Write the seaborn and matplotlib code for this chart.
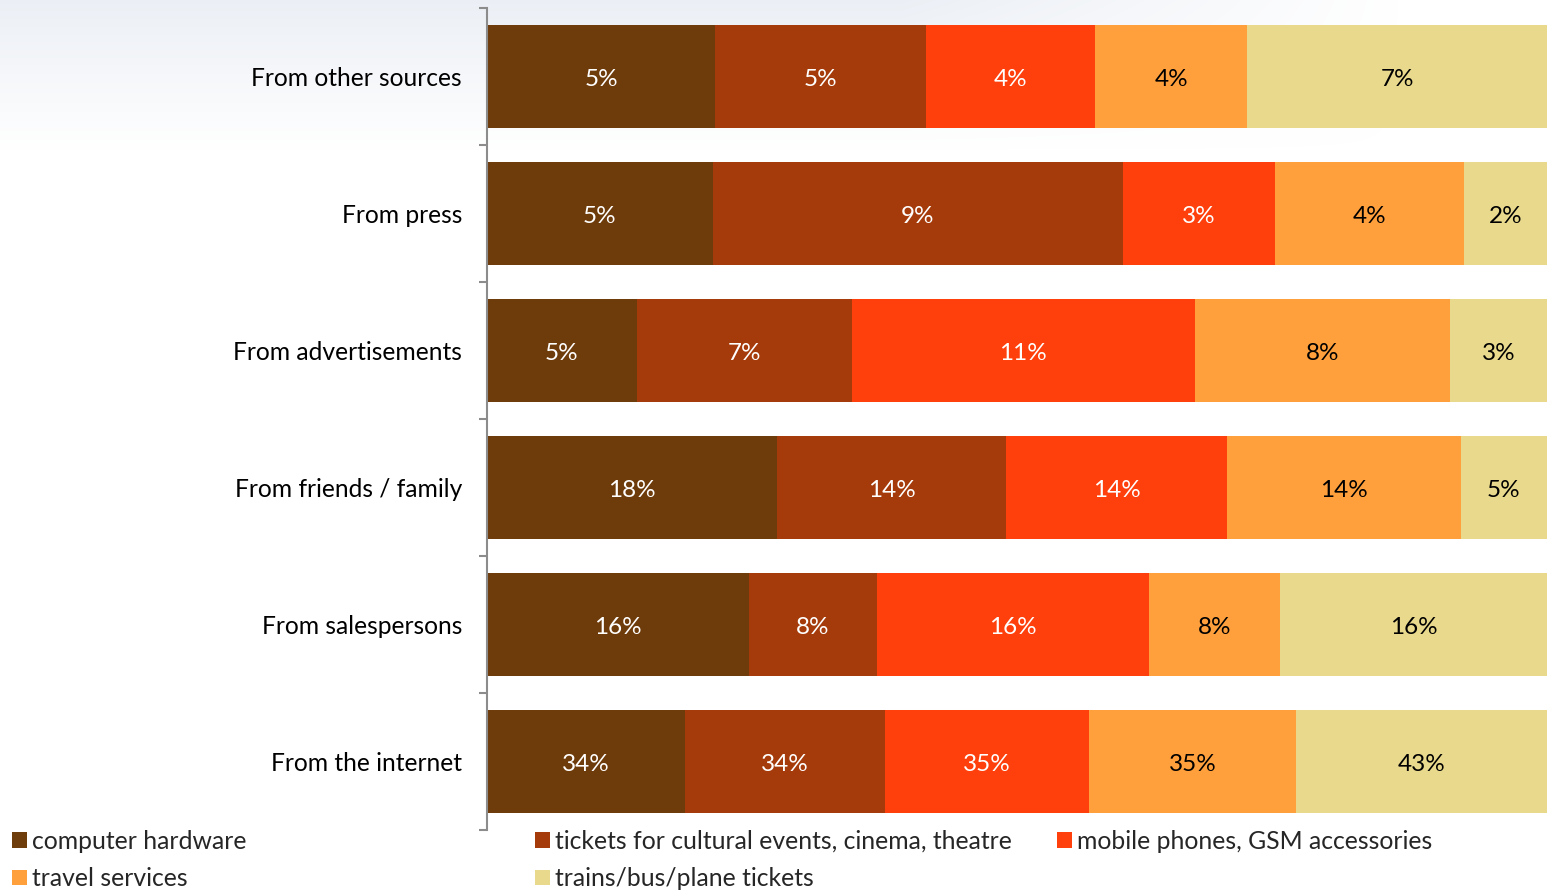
import numpy as np
import pandas as pd
import matplotlib
matplotlib.use("Agg")
import matplotlib.pyplot as plt
from matplotlib.patches import Patch
import seaborn as sns

# Information sources (rows, top to bottom)
sources = [
    "From other sources",
    "From press",
    "From advertisements",
    "From friends / family",
    "From salespersons",
    "From the internet",
]

# Product categories (stack order, left to right)
products = [
    "computer hardware",
    "tickets for cultural events, cinema, theatre",
    "mobile phones, GSM accessories",
    "travel services",
    "trains/bus/plane tickets",
]

# Share of buyers (%) per source, one list per product category
computer_hardware = [5.4, 4.9, 4.8, 17.8, 15.8, 33.8]
cultural_tickets = [5.0, 8.9, 6.9, 14.0, 7.7, 34.2]
mobile_phones = [4.0, 3.3, 11.0, 13.6, 16.4, 34.8]
travel_services = [3.6, 4.1, 8.2, 14.3, 7.9, 35.3]
transport_tickets = [7.1, 1.8, 3.1, 5.3, 16.1, 42.9]

colors = ["#6E3B0B", "#A53B0B", "#FF3F0C", "#FFA03C", "#E8D98C"]
label_colors = ["white", "white", "white", "black", "black"]

values = np.array([computer_hardware, cultural_tickets, mobile_phones,
                   travel_services, transport_tickets]).T  # rows = sources
shares = values / values.sum(axis=1, keepdims=True)
cum = np.cumsum(shares, axis=1)

sns.set_theme(style="white")
plt.rcParams["font.family"] = ["Lato", "DejaVu Sans"]

W, H = 1547, 891
fig = plt.figure(figsize=(W / 100, H / 100), dpi=100)

# faint light band behind the top of the chart
bg = fig.add_axes([0, 0, 1, 1], zorder=-10)
yy, xx = np.mgrid[0:H, 0:W]
fade = np.clip(1 - yy / 150.0, 0, 1) * np.clip(1 - (xx - 900) / 500.0, 0, 1)
rgba = np.zeros((H, W, 4))
rgba[..., 0] = 0.90
rgba[..., 1] = 0.92
rgba[..., 2] = 0.95
rgba[..., 3] = 0.75 * fade
bg.imshow(rgba, aspect="auto", extent=(0, W, H, 0))
bg.set_axis_off()

ax = fig.add_axes([487 / W, 61 / H, 1060 / W, 822 / H])
ax.patch.set_alpha(0)

# stacked bars: draw cumulative totals from the last segment back to the first
for i in reversed(range(len(products))):
    df = pd.DataFrame({"source": sources, "cum": cum[:, i]})
    sns.barplot(data=df, x="cum", y="source", orient="h", color=colors[i],
                saturation=1, width=0.75, ax=ax, linewidth=0)

# value labels centred in each segment
for r in range(len(sources)):
    left = 0.0
    for i in range(len(products)):
        w = shares[r, i]
        ax.text(left + w / 2, r + 0.02, f"{values[r, i]:.0f}%", ha="center",
                va="center", color=label_colors[i], fontsize=17.5)
        left += w

ax.set_xlim(0, 1)
ax.set_ylim(len(sources) - 0.5, -0.5)
ax.set_xlabel("")
ax.set_ylabel("")
ax.set_xticks([])
ax.set_yticks(range(len(sources)))
ax.set_yticklabels(sources, fontsize=17.7, color="black")
ax.set_yticks(np.arange(-0.5, len(sources)), minor=True)
ax.tick_params(axis="y", which="major", length=0, pad=18)
ax.tick_params(axis="y", which="minor", length=6, width=1.5, color="#8C8C8C",
               direction="out", left=True)
for s in ["top", "right", "bottom"]:
    ax.spines[s].set_visible(False)
ax.spines["left"].set_color("#8C8C8C")
ax.spines["left"].set_linewidth(1.5)

# legend in three columns along the bottom
def handle(i):
    return Patch(facecolor=colors[i], edgecolor="none")

legend_cols = [([0, 3], 12), ([1, 4], 535), ([2], 1057)]
for idx, xpix in legend_cols:
    fig.legend([handle(i) for i in idx], [products[i] for i in idx],
               loc="upper left", bbox_to_anchor=(xpix / W, 1 - 830 / H),
               frameon=False, fontsize=17.8, handlelength=0.6,
               handleheight=0.6, handletextpad=0.2, labelspacing=0.57,
               borderaxespad=0, borderpad=0)

fig.savefig("out.png", dpi=100)
